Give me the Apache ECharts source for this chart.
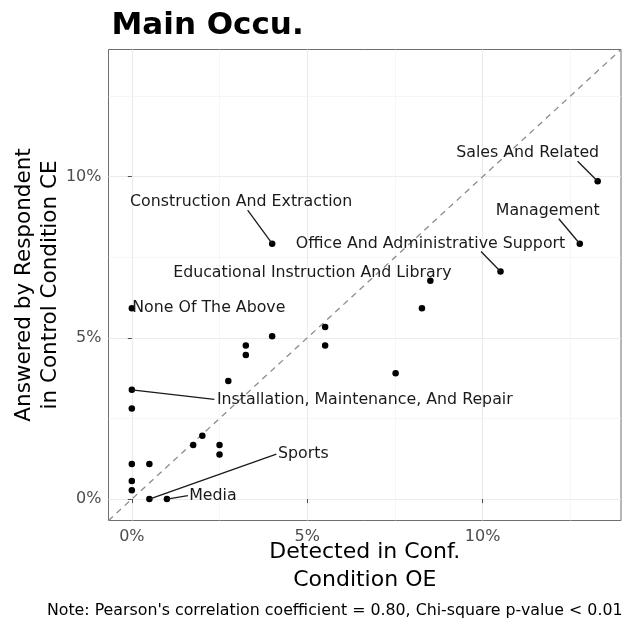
<!DOCTYPE html>
<html>
<head>
<meta charset="utf-8">
<script src="https://cdn.jsdelivr.net/npm/echarts@6/dist/echarts.min.js"></script>
<style>
	html, body { margin: 0; padding: 0; background: #fff; }
	#chart { width: 631px; height: 625px; }
</style>
</head>
<body>
<div id="chart"></div>
<script>
// values in percent
const detectedOE = [13.28, 4.0, 12.77, 10.51, 8.51, 8.27, 0, 5.51, 4.0, 3.25, 3.25, 5.51, 7.52, 2.75, 0, 0, 2.01, 1.75, 2.5, 2.5, 0, 0.5, 0, 0, 0.5, 1.0]
const answeredCE = [9.86, 7.92, 7.92, 7.06, 6.77, 5.92, 5.92, 5.34, 5.05, 4.76, 4.47, 4.76, 3.9, 3.66, 3.39, 2.81, 1.96, 1.68, 1.68, 1.38, 1.09, 1.09, 0.56, 0.27, 0, 0]
const pointLabels = [
	'Sales And Related', 'Construction And Extraction', 'Management', 'Office And Administrative Support',
	'Educational Instruction And Library', '', 'None Of The Above', '', '', '', '', '', '', '',
	'Installation, Maintenance, And Repair', '', '', '', '', '', '', '', '', '', 'Sports', 'Media'
]
const tickValues = [0, 5, 10]
const minorValues = [2.5, 7.5, 12.5]

// repel-style placement, px from the point: [label dx, label dy, segment end dx, segment end dy]
const labelShift = {
	0: [-70, -28, -20, -20],
	1: [-31, -42, -24.5, -33.5],
	2: [-32, -33, -21, -25],
	3: [-70, -28, -19.5, -20],
	4: [-118, -8],
	6: [77, 0],
	14: [233, 10, 82.5, 9.5],
	24: [154, -45, 127, -45],
	25: [46, -3, 21, -3.5]
}

const AX_MIN = -0.665
const AX_MAX = 13.945

const chart = echarts.init(document.getElementById('chart'), null, { renderer: 'canvas' })

const gridLines = []
tickValues.forEach((v) => {
	gridLines.push({ xAxis: v, lineStyle: { color: '#ebebeb', width: 1.2, type: 'solid' } })
	gridLines.push({ yAxis: v, lineStyle: { color: '#ebebeb', width: 1.2, type: 'solid' } })
})
minorValues.forEach((v) => {
	gridLines.push({ xAxis: v, lineStyle: { color: '#f2f2f2', width: 0.7, type: 'solid' } })
	gridLines.push({ yAxis: v, lineStyle: { color: '#f2f2f2', width: 0.7, type: 'solid' } })
})

const labelData = []
pointLabels.forEach((name, i) => {
	if (name) labelData.push([detectedOE[i], answeredCE[i], i])
})

const axisCommon = {
	type: 'value',
	min: AX_MIN,
	max: AX_MAX,
	splitLine: { show: false },
	axisLine: { show: false },
	axisTick: { show: true, customValues: tickValues, length: 4, lineStyle: { color: '#4d4d4d', width: 1 } },
	axisLabel: {
		customValues: tickValues,
		formatter: (v) => v + '%',
		color: '#4d4d4d',
		fontSize: 16,
		fontFamily: 'DejaVu Sans'
	},
	nameLocation: 'middle',
	nameMoveOverlap: false
}

chart.setOption({
	animation: false,
	title: {
		text: 'Main Occu.',
		left: 106.5,
		top: 5,
		textStyle: { fontFamily: 'DejaVu Sans', fontWeight: 'bold', fontSize: 31, color: '#000' }
	},
	grid: {
		left: 108.5,
		right: 10,
		top: 49.5,
		bottom: 104.5,
		show: true,
		containLabel: false,
		outerBoundsMode: 'none',
		borderColor: '#6e6e6e',
		borderWidth: 1,
		backgroundColor: 'transparent'
	},
	xAxis: {
		...axisCommon,
		axisLabel: { ...axisCommon.axisLabel, margin: 8 },
		name: 'Detected in Conf.\nCondition OE',
		nameGap: 17.5,
		nameTextStyle: { color: '#000', fontSize: 22, fontFamily: 'DejaVu Sans', lineHeight: 28 }
	},
	yAxis: {
		...axisCommon,
		axisLabel: { ...axisCommon.axisLabel, margin: 7 },
		name: 'Answered by Respondent\nin Control Condition CE',
		nameGap: 45.5,
		nameTextStyle: { color: '#000', fontSize: 21.5, fontFamily: 'DejaVu Sans', lineHeight: 26 }
	},
	series: [
		{
			type: 'line',
			z: 1,
			silent: true,
			symbol: 'none',
			data: [[AX_MIN, AX_MIN], [AX_MAX, AX_MAX]],
			lineStyle: { color: '#8c8c8c', width: 1.3, type: [6, 5] },
			markLine: {
				silent: true,
				symbol: ['none', 'none'],
				label: { show: false },
				data: gridLines,
				z: 0
			}
		},
		{
			type: 'scatter',
			z: 3,
			symbolSize: 6.5,
			itemStyle: { color: '#000', opacity: 1 },
			data: detectedOE.map((x, i) => [x, answeredCE[i]])
		},
		{
			type: 'custom',
			z: 4,
			silent: true,
			data: labelData,
			encode: { x: 0, y: 1 },
			renderItem: (params, api) => {
				const p = api.coord([api.value(0), api.value(1)])
				const i = api.value(2)
				const s = labelShift[i]
				const children = [{
					type: 'text',
					style: {
						text: pointLabels[i],
						x: p[0] + s[0],
						y: p[1] + s[1],
						align: 'center',
						verticalAlign: 'middle',
						fill: '#1a1a1a',
						font: '15.8px "DejaVu Sans"'
					}
				}]
				if (s.length > 2) {
					children.push({
						type: 'line',
						shape: { x1: p[0], y1: p[1], x2: p[0] + s[2], y2: p[1] + s[3] },
						style: { stroke: '#1a1a1a', lineWidth: 1.3 }
					})
				}
				return { type: 'group', children }
			}
		}
	],
	graphic: [
		{
			type: 'text',
			right: 8.5,
			top: 603,
			style: {
				text: "Note: Pearson's correlation coefficient = 0.80, Chi-square p-value < 0.01",
				fontSize: 15.8,
				fontFamily: 'DejaVu Sans',
				fill: '#000'
			}
		}
	]
})
</script>
</body>
</html>
